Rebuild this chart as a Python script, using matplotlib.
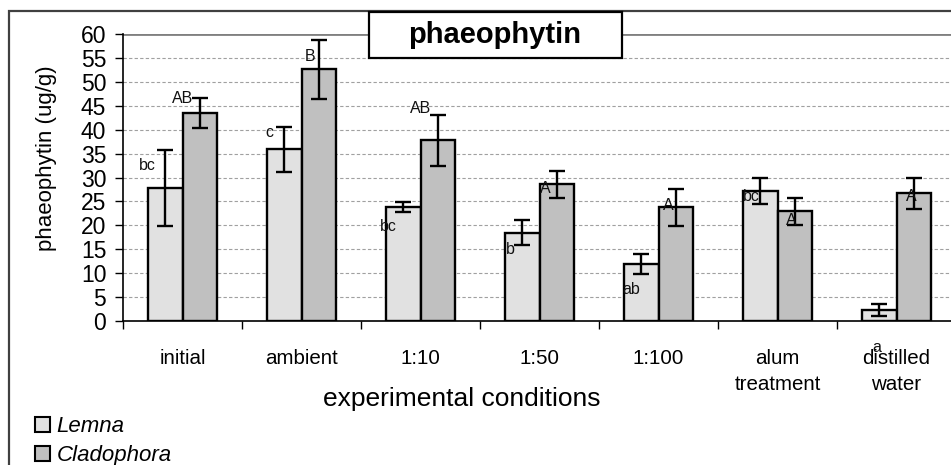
import matplotlib
matplotlib.use("Agg")
import matplotlib.pyplot as plt
from matplotlib.patches import Rectangle, Patch
import numpy as np

plt.rcParams['font.family'] = ['Liberation Sans', 'DejaVu Sans']

categories = ["initial", "ambient", "1:10", "1:50", "1:100", "alum\ntreatment", "distilled\nwater"]
lemna = [27.8, 35.9, 23.8, 18.5, 11.9, 27.2, 2.2]
lemna_err = [8.0, 4.7, 1.0, 2.6, 2.1, 2.7, 1.25]
clado = [43.5, 52.6, 37.8, 28.6, 23.8, 22.9, 26.7]
clado_err = [3.2, 6.2, 5.3, 2.8, 3.9, 2.9, 3.3]

lemna_letters = ["bc", "c", "bc", "b", "ab", "bc", "a"]
clado_letters = ["AB", "B", "AB", "A", "A", "A", "A"]
# label anchor positions (category offset, value)
lemna_lab_dx = [-0.298, -0.273, -0.273, -0.242, -0.225, -0.217, -0.167]
lemna_lab_y = [32.6, 39.4, 19.7, 15.0, 6.6, 26.0, -5.6]
clado_lab_dx = [0.0, 0.071, 0.0, 0.046, 0.082, 0.113, 0.122]
clado_lab_y = [46.6, 55.3, 44.5, 27.7, 24.25, 21.1, 26.0]

W, H = 951, 465
fig = plt.figure(figsize=(W / 100, H / 100), dpi=100)

# outer chart border
fig.add_artist(Rectangle((9 / W, -0.05), 1.1, 1 - 11 / H + 0.05, transform=fig.transFigure,
                         fill=False, edgecolor='#404040', linewidth=1.6, zorder=0))

ax = fig.add_axes([123 / W, 1 - 321 / H, 833 / W, (321 - 34) / H])
x = np.arange(len(categories))
bw = 0.286
ax.bar(x - bw / 2, lemna, bw, color='#e1e1e1', edgecolor='black', linewidth=1.7, zorder=3)
ax.bar(x + bw / 2, clado, bw, color='#c0c0c0', edgecolor='black', linewidth=1.7, zorder=3)
ax.errorbar(x - bw / 2, lemna, yerr=lemna_err, fmt='none', ecolor='black', elinewidth=1.7,
            capsize=5.5, capthick=1.7, zorder=4)
ax.errorbar(x + bw / 2, clado, yerr=clado_err, fmt='none', ecolor='black', elinewidth=1.7,
            capsize=5.5, capthick=1.7, zorder=4)

for i in range(len(categories)):
    ax.text(i + lemna_lab_dx[i], lemna_lab_y[i], lemna_letters[i], ha='center', va='center',
            fontsize=11.5, color='#111111', zorder=6, clip_on=False)
    ax.text(i + clado_lab_dx[i], clado_lab_y[i], clado_letters[i], ha='center', va='center',
            fontsize=11.5, color='#111111', zorder=6, clip_on=False)

ax.set_xlim(-0.5, 6.5)
ax.set_ylim(0, 60)
ax.set_yticks(np.arange(0, 61, 5))
ax.tick_params(axis='y', labelsize=16.5, length=6, width=1, direction='out', pad=6)
for yv in np.arange(5, 60, 5):
    ax.axhline(yv, color='#a0a0a0', linewidth=0.8, linestyle=(0, (3, 2)), zorder=1)
ax.axhline(60, color='#808080', linewidth=2, zorder=1)

ax.set_xticks(x)
ax.set_xticklabels(categories, fontsize=14.8, linespacing=1.5)
ax.tick_params(axis='x', length=0, pad=20)
ax.set_xticks(np.arange(-0.5, 7.0, 1), minor=True)
ax.tick_params(axis='x', which='minor', length=6, width=1, direction='out')

for s in ['top', 'right']:
    ax.spines[s].set_visible(False)
ax.spines['left'].set_linewidth(1.2)
ax.spines['bottom'].set_linewidth(1.2)

fig.text(47 / W, 1 - 158.5 / H, "phaeophytin (ug/g)", rotation=90, ha='center', va='center',
         fontsize=16)
fig.text(462 / W, 1 - 399 / H, "experimental conditions", ha='center', va='center', fontsize=19)

# title box
fig.add_artist(Rectangle((369 / W, 1 - 58 / H), (622 - 369) / W, (58 - 12) / H,
                         transform=fig.transFigure, facecolor='white', edgecolor='black',
                         linewidth=1.6, zorder=5))
fig.text(495 / W, 1 - 35 / H, "phaeophytin", ha='center', va='center', fontsize=21,
         fontweight='bold', zorder=6)

handles = [Patch(facecolor='#e1e1e1', edgecolor='black', linewidth=1.5),
           Patch(facecolor='#c0c0c0', edgecolor='black', linewidth=1.5)]
fig.legend(handles, ["Lemna", "Cladophora"], loc='upper left',
           bbox_to_anchor=(35 / W, 1 - 416 / H), frameon=False,
           prop={'style': 'italic', 'size': 16}, handlelength=0.68, handleheight=0.68,
           handletextpad=0.3, labelspacing=0.38, borderpad=0, borderaxespad=0)

fig.savefig("out.png", dpi=100)
